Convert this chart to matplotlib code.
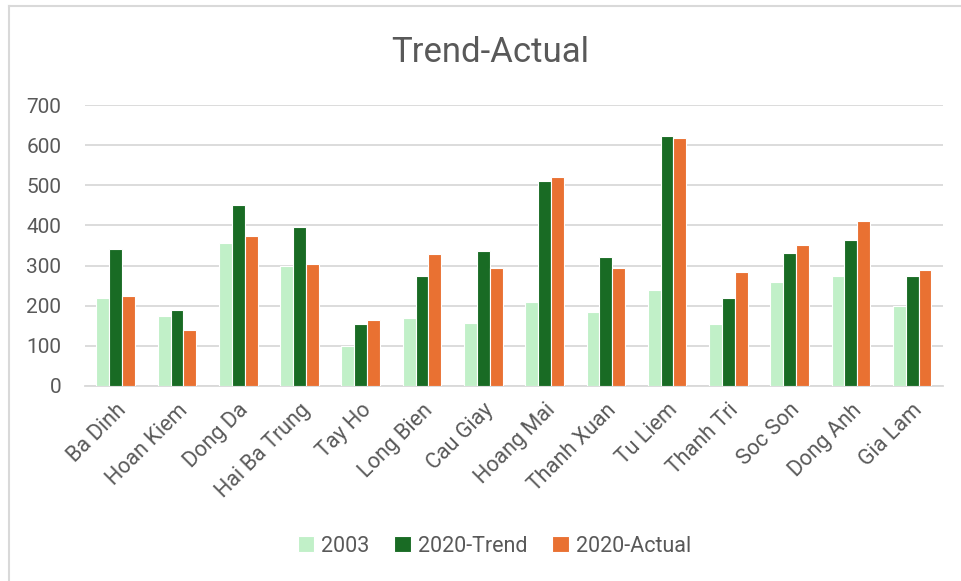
import numpy as np
import matplotlib.pyplot as plt
from matplotlib.lines import Line2D

districts = ["Ba Dinh", "Hoan Kiem", "Dong Da", "Hai Ba Trung", "Tay Ho",
             "Long Bien", "Cau Giay", "Hoang Mai", "Thanh Xuan", "Tu Liem",
             "Thanh Tri", "Soc Son", "Dong Anh", "Gia Lam"]
y2003 = [220, 174, 357, 300, 100, 170, 156, 209, 184, 238, 153, 258, 275, 200]
trend2020 = [341, 190, 452, 396, 154, 274, 337, 510, 320, 623, 218, 332, 364, 273]
actual2020 = [224, 138, 373, 303, 164, 329, 293, 521, 295, 619, 285, 351, 411, 290]

plt.rcParams['font.family'] = ['Roboto', 'DejaVu Sans']
grey = "#595959"
gridc = "#D9D9D9"

fig = plt.figure(figsize=(9.62, 5.81), dpi=100)
ax = fig.add_axes([0.0884, 0.336, 0.8916, 0.483])

x = np.arange(len(districts))
w = 0.21
ax.bar(x - w, y2003, w, color="#C1F0C8", edgecolor="white", linewidth=0.8, label="2003", zorder=3)
ax.bar(x, trend2020, w, color="#196B24", edgecolor="white", linewidth=0.8, label="2020-Trend", zorder=3)
ax.bar(x + w, actual2020, w, color="#E97132", edgecolor="white", linewidth=0.8, label="2020-Actual", zorder=3)

ax.set_xlim(-0.5, len(districts) - 0.5)
ax.set_ylim(0, 700)
ax.set_yticks(range(0, 701, 100))
ax.yaxis.grid(True, color=gridc, linewidth=1.3, zorder=0)
for s in ["top", "right", "left"]:
    ax.spines[s].set_visible(False)
ax.spines["bottom"].set_color(gridc)
ax.spines["bottom"].set_linewidth(1.3)
ax.tick_params(axis="both", length=0, labelsize=15, labelcolor=grey)
ax.tick_params(axis="y", pad=17)
ax.set_xticks(x)
ax.set_xticklabels(districts, rotation=45, ha="right", rotation_mode="anchor", fontsize=15.5)
ax.tick_params(axis="x", pad=10)

fig.text(0.51, 0.91, "Trend-Actual", ha="center", va="center", fontsize=25, color=grey)

ax.legend(loc="center", bbox_to_anchor=(0.514, 0.06), bbox_transform=fig.transFigure,
          ncol=3, frameon=False, fontsize=15.5, labelcolor=grey,
          handlelength=0.75, handleheight=0.75, handletextpad=0.35, columnspacing=1.15)

# chart frame (left and top edges visible)
fig.add_artist(Line2D([9 / 962, 9 / 962], [0, 1 - 6 / 581], transform=fig.transFigure, color=gridc, linewidth=1.5))
fig.add_artist(Line2D([9 / 962, 1], [1 - 6 / 581, 1 - 6 / 581], transform=fig.transFigure, color=gridc, linewidth=1.5))

fig.savefig("out.png", dpi=100)
